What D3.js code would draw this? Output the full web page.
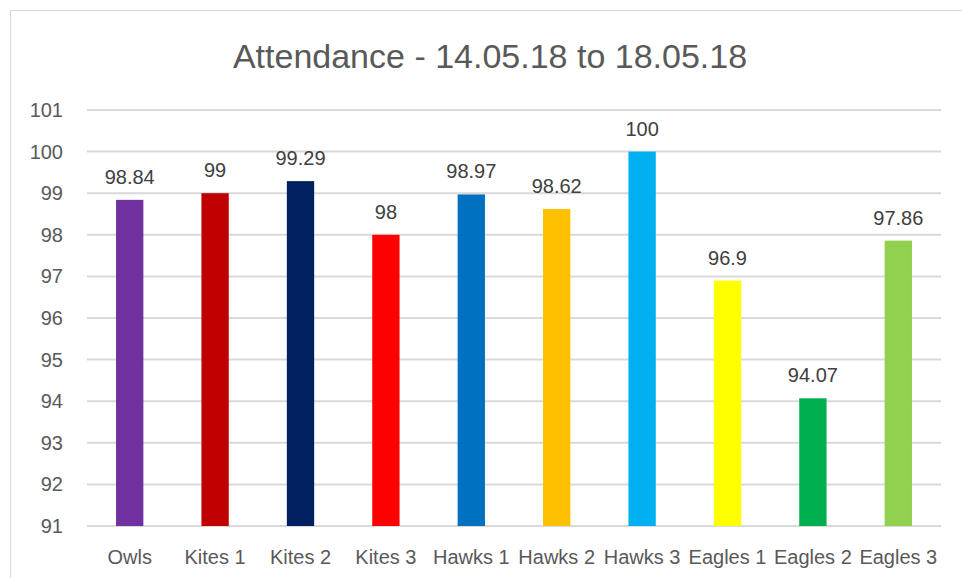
<!DOCTYPE html>
<html>
<head>
<meta charset="utf-8">
<script src="https://cdn.jsdelivr.net/npm/d3@7"></script>
<style>
  html, body { margin: 0; padding: 0; background: #fff; }
  svg { display: block; font-family: "Liberation Sans", Arial, sans-serif; }
</style>
</head>
<body>
<svg id="chart" width="962" height="578"></svg>
<script>
const categories = ["Owls", "Kites 1", "Kites 2", "Kites 3", "Hawks 1", "Hawks 2", "Hawks 3", "Eagles 1", "Eagles 2", "Eagles 3"];
const values = [98.84, 99, 99.29, 98, 98.97, 98.62, 100, 96.9, 94.07, 97.86];
const colors = ["#7030A0", "#C00000", "#002060", "#FF0000", "#0070C0", "#FFC000", "#00B0F0", "#FFFF00", "#00B050", "#92D050"];
const yTicks = [91, 92, 93, 94, 95, 96, 97, 98, 99, 100, 101];
const title = "Attendance - 14.05.18 to 18.05.18";

const svg = d3.select("#chart");
const margin = {left: 87, right: 21, top: 110, bottom: 52};
const width = 962, height = 578;

// chart area frame
svg.append("rect")
  .attr("x", 10.5).attr("y", 10.5)
  .attr("width", 1000).attr("height", 1000)
  .attr("fill", "none").attr("stroke", "#d9d9d9").attr("stroke-width", 1);

const x = d3.scaleBand()
  .domain(categories)
  .range([margin.left, width - margin.right])
  .paddingInner(0.68).paddingOuter(0.34);

const y = d3.scaleLinear()
  .domain([91, 101])
  .range([height - margin.bottom, margin.top]);

// gridlines
svg.append("g").selectAll("line")
  .data(yTicks)
  .join("line")
  .attr("x1", margin.left).attr("x2", width - margin.right)
  .attr("y1", d => y(d)).attr("y2", d => y(d))
  .attr("stroke", "#d9d9d9").attr("stroke-width", 2);

// y tick labels
svg.append("g").selectAll("text")
  .data(yTicks)
  .join("text")
  .attr("x", 63).attr("y", d => y(d) + 7)
  .attr("text-anchor", "end")
  .attr("font-size", 20).attr("fill", "#595959")
  .text(d => d);

// bars
svg.append("g").selectAll("rect")
  .data(values)
  .join("rect")
  .attr("x", (d, i) => x(categories[i]))
  .attr("width", x.bandwidth())
  .attr("y", d => y(d))
  .attr("height", d => y(91) - y(d))
  .attr("fill", (d, i) => colors[i]);

// value labels
svg.append("g").selectAll("text")
  .data(values)
  .join("text")
  .attr("x", (d, i) => x(categories[i]) + x.bandwidth() / 2)
  .attr("y", d => y(d) - 16)
  .attr("text-anchor", "middle")
  .attr("font-size", 20).attr("fill", "#404040")
  .text(d => d);

// category labels
svg.append("g").selectAll("text")
  .data(categories)
  .join("text")
  .attr("x", d => x(d) + x.bandwidth() / 2)
  .attr("y", 564)
  .attr("text-anchor", "middle")
  .attr("font-size", 20).attr("fill", "#595959")
  .text(d => d);

// title
svg.append("text")
  .attr("x", 490).attr("y", 68)
  .attr("text-anchor", "middle")
  .attr("font-size", 34).attr("fill", "#595959")
  .text(title);
</script>
</body>
</html>
